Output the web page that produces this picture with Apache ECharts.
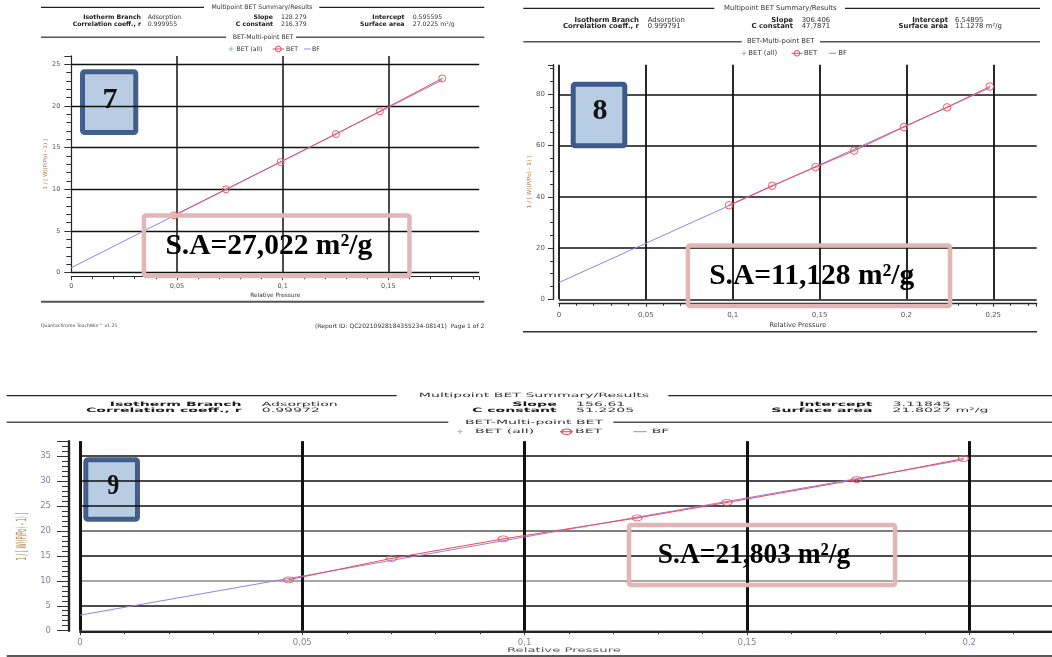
<!DOCTYPE html>
<html><head><meta charset="utf-8">
<script src="https://cdn.jsdelivr.net/npm/echarts@6/dist/echarts.min.js"></script>
<style>html,body{margin:0;padding:0;background:#fff}#c{width:1052px;height:657px}</style>
</head><body><div id="c"></div>
<script>
// ---------- data ----------
const sumLabels = ['Isotherm Branch', 'Correlation coeff., r', 'Slope', 'C constant', 'Intercept', 'Surface area'];
const sum7 = ['Adsorption', '0.999955', '128.279', '216.379', '0.595595', '27.0225 m\u00b2/g'];
const sum8 = ['Adsorption', '0.999791', '306.406', '47.7871', '6.54895', '11.1278 m\u00b2/g'];
const sum9 = ['Adsorption', '0.99972', '156.61', '51.2205', '3.11845', '21.8027 m\u00b2/g'];

const bet7X = [0.0486, 0.0732, 0.0990, 0.1252, 0.1460, 0.1755];
const bet7Y = [6.88, 10.0, 13.27, 16.63, 19.35, 23.3];
const bf7X = [0, 0.1755];
const bf7Y = [0.6, 23.1];

const bet8X = [0.0978, 0.1227, 0.1477, 0.1699, 0.1985, 0.2234, 0.2480];
const bet8Y = [36.7, 44.3, 51.6, 58.0, 67.2, 74.9, 83.0];
const bf8X = [0, 0.248];
const bf8Y = [6.55, 82.5];

const bet9X = [0.0469, 0.0701, 0.0952, 0.1253, 0.1455, 0.1747, 0.1987];
const bet9Y = [10.2, 14.5, 18.4, 22.6, 25.7, 30.3, 34.5];
const bf9X = [0, 0.1987];
const bf9Y = [3.12, 34.24];

const saTexts = ['S.A=27,022 m\u00b2/g', 'S.A=11,128 m\u00b2/g', 'S.A=21,803 m\u00b2/g'];
const sampleIds = ['7', '8', '9'];
const yName = '1 / [ W((P/Po) - 1) ]';
const xName = 'Relative Pressure';
const legendNames = ['BET (all)', 'BET', 'BF'];
const headTitle = 'Multipoint BET Summary/Results';
const headSub = 'BET-Multi-point BET';
const footLeft = 'Quantachrome TouchWin\u2122 v1.21';
const footRight = '(Report ID: QC20210928184355234-08141)  Page 1 of 2';

// ---------- helpers ----------
const zip = (xs, ys) => xs.map((x, i) => [x, ys[i]]);
const fmtX = v => v === 0 ? '0' : String(+v.toFixed(4)).replace('.', ',');

function T(x, y, text, o) {
  o = o || {};
  return { type: 'text', x: x, y: y, scaleX: o.sx || 1, scaleY: o.sy || 1, rotation: o.rot || 0, z: o.z || 50, silent: true,
    style: { text: text, fill: o.color || '#222', fontSize: o.size || 6.2, fontFamily: o.family || 'DejaVu Sans',
      fontWeight: o.bold ? 'bold' : 'normal', align: o.align || 'left', verticalAlign: 'middle' } };
}
function L(x1, y1, x2, y2, c, w) {
  return { type: 'line', z: 50, silent: true, shape: { x1: x1, y1: y1, x2: x2, y2: y2 }, style: { stroke: c, lineWidth: w } };
}

function header(c, vals) {
  const g = [];
  g.push(L(c.x0, c.r1, c.g1[0], c.r1, '#222', 1.2));
  g.push(L(c.g1[1], c.r1, c.x1, c.r1, '#222', 1.2));
  g.push(T(c.t1, c.r1, headTitle, { size: c.size, sx: c.sx, align: 'center', color: '#333' }));
  g.push(L(c.x0, c.r2, c.g2[0], c.r2, '#555', 1.6));
  g.push(L(c.g2[1], c.r2, c.x1, c.r2, '#555', 1.6));
  g.push(T(c.t2, c.r2, headSub, { size: c.size, sx: c.sx, align: 'center', color: '#333' }));
  for (let col = 0; col < 3; col++) {
    for (let row = 0; row < 2; row++) {
      const k = col * 2 + row;
      g.push(T(c.le[col], c.rows[row], sumLabels[k], { size: c.size, sx: c.sx, bold: true, align: 'right', color: '#1a1a1a' }));
      g.push(T(c.vs[col], c.rows[row], vals[k], { size: c.size, sx: c.sx, color: '#333' }));
    }
  }
  // legend
  const y = c.ly, lg = c.leg;
  g.push(L(lg.plus - 2.5, y, lg.plus + 2.5, y, '#9fbab2', 1));
  g.push(L(lg.plus, y - 2.5, lg.plus, y + 2.5, '#9fbab2', 1));
  g.push(T(lg.allT, y, legendNames[0], { size: c.size, sx: c.sx, color: '#333' }));
  g.push(L(lg.circ[0], y, lg.circ[1], y, '#f04858', 1));
  g.push({ type: 'circle', x: (lg.circ[0] + lg.circ[1]) / 2, y: y, scaleX: c.csx || 1, z: 50, silent: true,
    shape: { cx: 0, cy: 0, r: 2.8 }, style: { fill: 'none', stroke: '#f04858', lineWidth: 1 } });
  g.push(T(lg.betT, y, legendNames[1], { size: c.size, sx: c.sx, color: '#333' }));
  g.push(L(lg.bf[0], y, lg.bf[1], y, '#9c84e8', 1));
  g.push(T(lg.bfT, y, legendNames[2], { size: c.size, sx: c.sx, color: '#333' }));
  return g;
}

function idBox(x0, y0, x1, y1, label, cx, cy, o) {
  o = o || {};
  const lw = 5;
  return [
    { type: 'rect', z: o.z != null ? o.z : 40, silent: true,
      shape: { x: x0 + lw / 2, y: y0 + lw / 2, width: x1 - x0 - lw, height: y1 - y0 - lw, r: 2 },
      style: { fill: o.fill || '#b8cce4', stroke: o.stroke || '#3b5a88', lineWidth: lw } },
    T(cx, cy, label, { size: 30, family: 'Liberation Serif', bold: true, align: 'center', color: '#111', sx: o.sx || 1, z: 60 })
  ];
}
function saBox(x0, y0, x1, y1, text, cx, cy, o) {
  o = o || {};
  const lw = 4.5;
  return [
    { type: 'rect', z: 40, silent: true,
      shape: { x: x0 + lw / 2, y: y0 + lw / 2, width: x1 - x0 - lw, height: y1 - y0 - lw, r: 2 },
      style: { fill: 'none', stroke: '#e3b6b6', lineWidth: lw } },
    T(cx, cy, text, { size: o.size || 29.5, family: 'Liberation Serif', bold: true, align: 'center', color: '#000', sx: o.sx || 1, z: 60 })
  ];
}

// ---------- grids / axes ----------
const P = [
  { left: 71.3, top: 55.9, width: 407.9, height: 216.8, xmax: 0.193, ymax: 26, yint: 5, ySplit: 5, x0Line: false,
    xoff: 4, yoff: 0, axW: 1.2, gW: 1.3, gvW: 1.5, lab: 6.5, labC: '#555', xm: 6, ym: 11,
    xName: xName, xGap: 16, xNameSize: 5.8, yName: yName, yGap: 22, yNameSize: 5.4, tick: 7, mtick: 5 },
  { left: 559, top: 64.8, width: 477.7, height: 234.5, xmax: 0.275, ymax: 91.5, yint: 20, ySplit: 4, x0Line: true,
    xoff: 4, yoff: 6, axW: 1.4, gW: 1.6, gvW: 1.8, lab: 7, labC: '#555', xm: 8, ym: 8,
    xName: xName, xGap: 18, xNameSize: 6.6, yName: yName, yGap: 17, yNameSize: 5.6, tick: 5, mtick: 3 },
  { left: 80, top: 441.1, width: 1000.4, height: 189.6, xmax: 0.225, ymax: 38, yint: 5, ySplit: 5, x0Line: true,
    xoff: 1, yoff: 11, axW: 2.4, gW: 1.5, gvW: 3, lab: 8.5, labC: '#86809f', xm: 7, ym: 18,
    xName: '', xGap: 16, xNameSize: 6, yName: '', yGap: 20, yNameSize: 6, tick: 12, mtick: 7 }
];

const grids = [], xAxes = [], yAxes = [];
P.forEach((p, i) => {
  grids.push({ left: p.left, top: p.top, width: p.width, height: p.height, containLabel: false, outerBoundsMode: 'none' });
  xAxes.push({
    type: 'value', gridIndex: i, min: 0, max: p.xmax, interval: 0.05, offset: p.xoff,
    axisLine: { show: true, onZero: false, lineStyle: { color: '#222', width: i === 2 ? 2 : p.axW } },
    axisTick: { show: true, length: 3.5, lineStyle: { color: '#333', width: 1 } },
    minorTick: { show: true, splitNumber: 5, length: 2.5, lineStyle: { color: '#333', width: 1 } },
    axisLabel: { formatter: fmtX, fontSize: p.lab, color: p.labC, margin: p.xm, showMaxLabel: false, fontFamily: 'DejaVu Sans' },
    splitLine: { show: true, showMinLine: p.x0Line, showMaxLine: false, lineStyle: { color: '#111', width: p.gvW } },
    name: p.xName, nameLocation: 'middle', nameGap: p.xGap,
    nameTextStyle: { fontSize: p.xNameSize, color: '#333', fontFamily: 'DejaVu Sans' }
  });
  yAxes.push({
    type: 'value', gridIndex: i, min: 0, max: p.ymax, interval: p.yint, offset: p.yoff,
    axisLine: { show: true, onZero: false, lineStyle: { color: '#222', width: p.axW } },
    axisTick: { show: true, length: p.tick, lineStyle: { color: '#333', width: 1 } },
    minorTick: { show: true, splitNumber: p.ySplit, length: p.mtick, lineStyle: { color: '#333', width: 1 } },
    axisLabel: { fontSize: p.lab, color: p.labC, margin: p.ym, showMaxLabel: false, fontFamily: 'DejaVu Sans' },
    splitLine: { show: true, showMinLine: true, showMaxLine: false,
      lineStyle: { color: i === 2 ? ['#8a8a8a', '#111', '#8a8a8a', '#111', '#555', '#111', '#111', '#111'] : '#111', width: p.gW } },
    name: p.yName, nameLocation: 'middle', nameGap: p.yGap, nameRotate: 90,
    nameTextStyle: { fontSize: p.yNameSize, color: '#b07a40', fontFamily: 'DejaVu Sans' }
  });
});

function panelSeries(i, bx, by, fx, fy, sym) {
  const pts = zip(bx, by);
  return [
    { name: legendNames[0], type: 'scatter', xAxisIndex: i, yAxisIndex: i, data: pts, z: 2,
      symbol: 'path://M4,0h2v4h4v2h-4v4h-2v-4h-4v-2h4z', symbolSize: 4, itemStyle: { color: '#b8d0c8' }, silent: true },
    { name: legendNames[2], type: 'line', xAxisIndex: i, yAxisIndex: i, data: zip(fx, fy), z: 3,
      symbol: 'none', lineStyle: { color: '#9a80e8', width: 1 }, silent: true },
    { name: legendNames[1], type: 'line', xAxisIndex: i, yAxisIndex: i, data: pts, z: 4,
      symbol: 'circle', symbolSize: sym, lineStyle: { color: '#f04858', width: 1 },
      itemStyle: { color: 'rgba(255,255,255,0)', borderColor: '#f25a68', borderWidth: 1 }, silent: true }
  ];
}

const series = [].concat(
  panelSeries(0, bet7X, bet7Y, bf7X, bf7Y, 7),
  panelSeries(1, bet8X, bet8Y, bf8X, bf8Y, 7.5),
  panelSeries(2, bet9X, bet9Y, bf9X, bf9Y, [10, 6])
);

// ---------- page furniture ----------
let gfx = [];
gfx = gfx.concat(header({ x0: 41, x1: 484.3, r1: 7.3, g1: [204, 319.3], t1: 262, r2: 37.3, g2: [226, 296], t2: 263,
  rows: [17.3, 24.3], le: [141, 273, 404.5], vs: [147.7, 281, 412.7], size: 6.2, sx: 1, ly: 49,
  leg: { plus: 231, allT: 236.5, circ: [272.7, 284], betT: 286, bf: [304, 310.7], bfT: 312 } }, sum7));
gfx = gfx.concat(header({ x0: 523.3, x1: 1040, r1: 8.3, g1: [714.3, 845], t1: 780.3, r2: 41.7, g2: [741.7, 820], t2: 780.8,
  rows: [20, 26.7], le: [639, 793, 948], vs: [647.7, 801.7, 955], size: 6.9, sx: 1, ly: 53.3,
  leg: { plus: 744, allT: 748.3, circ: [791.5, 802.5], betT: 804, bf: [829, 836], bfT: 838.3 } }, sum8));
gfx = gfx.concat(header({ x0: 6.7, x1: 1052, r1: 395.7, g1: [396.7, 668.3], t1: 534, r2: 422.3, g2: [448.3, 613.3], t2: 534,
  rows: [404.3, 410.7], le: [241.6, 556.7, 872.5], vs: [261.7, 576, 892.6], size: 6.0, sx: 2.35, ly: 431.7, csx: 1.7,
  leg: { plus: 460, allT: 475, circ: [560, 573], betT: 575, bf: [633.3, 646.7], bfT: 651.7 } }, sum9));

// footers / rules
gfx.push(L(41, 301.7, 484.3, 301.7, '#555', 2));
gfx.push(T(41, 326, footLeft, { size: 4.6, color: '#444' }));
gfx.push(T(484.3, 326, footRight, { size: 6, color: '#333', align: 'right' }));
gfx.push(L(523, 331.7, 1037, 331.7, '#333', 1.5));
gfx.push(L(6.7, 656, 1052, 656, '#222', 1.5));

// panel 3 axis names (stretched like the picture)
gfx.push(T(564, 650.7, xName, { size: 6.3, sx: 2.1, align: 'center', color: '#555' }));
gfx.push(T(22.5, 536.5, yName, { size: 5.4, rot: Math.PI / 2, sy: 2.6, sx: 0.95, align: 'center', color: '#b07a40' }));

// annotation boxes (boxes 7 and 9 sit under the grid lines, which show through)
const seeThrough = { fill: 'rgba(126,162,206,0.55)', stroke: 'rgba(52,84,132,0.92)', z: -1 };
gfx = gfx.concat(idBox(80, 69.3, 138.3, 135, sampleIds[0], 110, 100, seeThrough));
gfx = gfx.concat(idBox(570.7, 81.7, 627.3, 148.3, sampleIds[1], 600, 111.7));
gfx = gfx.concat(idBox(83.3, 457.3, 140, 521.7, sampleIds[2], 113.3, 486.7, Object.assign({}, seeThrough, { sx: 0.8 })));
gfx = gfx.concat(saBox(141.7, 213.3, 411.7, 278.3, saTexts[0], 268.8, 246.7));
gfx = gfx.concat(saBox(685.7, 243.3, 952.3, 308.3, saTexts[1], 811.7, 276));
gfx = gfx.concat(saBox(626.7, 522.7, 897.3, 587.3, saTexts[2], 754, 555, { sx: 0.93 }));

const chart = echarts.init(document.getElementById('c'), null, { renderer: 'canvas' });
chart.setOption({
  animation: false,
  backgroundColor: '#fff',
  grid: grids,
  xAxis: xAxes,
  yAxis: yAxes,
  series: series,
  graphic: { elements: gfx }
});
</script></body></html>
